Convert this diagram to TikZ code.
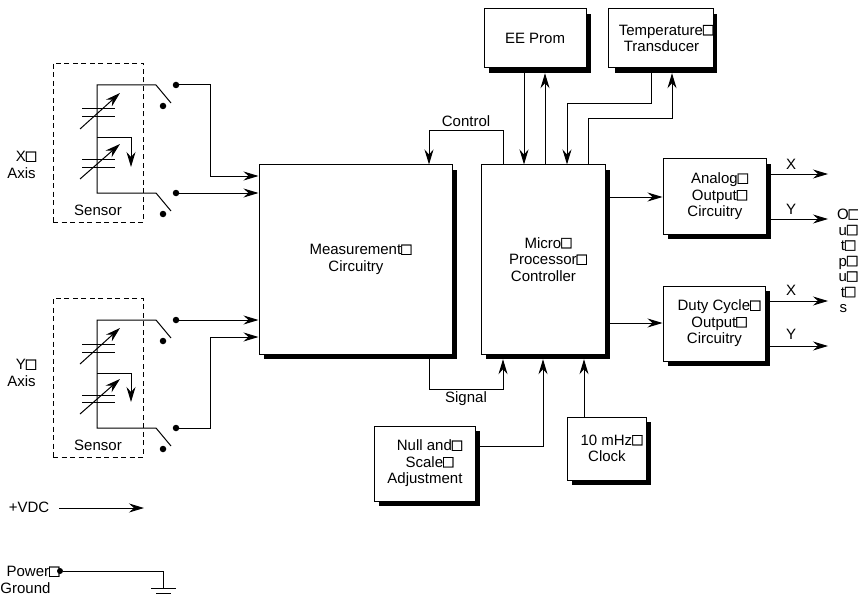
\documentclass[tikz,border=0pt]{standalone}
\usepackage{fontspec}
\setmainfont{Liberation Sans}
\newfontfamily\tffont[FakeBold=1.5]{Liberation Sans}
\usetikzlibrary{arrows.meta}
\newcommand{\tf}{{\fontsize{17}{16}\tffont □}}
\newcommand{\nt}{\phantom{□}}
\newcommand{\sh}{\hspace*{10pt}}
\tikzset{
  conn/.style={line width=1pt},
  arr/.style={conn,-{Stealth[length=15pt,width=9pt,inset=5pt]}},
  cbox/.style={draw=black,line width=1pt,fill=white,inner sep=0pt,align=center,font=\fontsize{15}{16.6}\selectfont},
  sbox/.style={fill=black,inner sep=0pt},
  txt/.style={inner sep=0pt,align=center,font=\fontsize{15}{16.6}\selectfont},
  sens/.style={draw=black,line width=0.9pt,dashed,dash pattern=on 5pt off 3.5pt,inner sep=0pt},
  dot/.style={circle,fill=black,inner sep=0pt,minimum size=6.5pt},
}
% name, x1, y1, x2, y2, text
\newcommand{\mybox}[6]{%
  \node[sbox,minimum width=#4pt-#2pt,minimum height=#5pt-#3pt] (#1-s) at ({(#2+#4)/2+5},{(#3+#5)/2+5}) {};
  \node[cbox,minimum width=#4pt-#2pt,minimum height=#5pt-#3pt] (#1) at ({(#2+#4)/2},{(#3+#5)/2}) {#6};
}
% sensor drawing, y offset, suffix
\newcommand{\sensor}[2]{%
  \node[sens,minimum width=90pt,minimum height=159pt] (sb#2) at (98,{142.5+#1}) {};
  \node[txt] (st#2) at (98,{210+#1}) {Sensor};
  \coordinate (ta#2) at (97,{85+#1});
  \coordinate (tb#2) at (97,{193+#1});
  \coordinate (tk#2) at (156,{85+#1});
  \coordinate (bk#2) at (156,{193+#1});
  \coordinate (te#2) at (171,{103+#1});
  \coordinate (be#2) at (171,{211+#1});
  \node[dot] (du#2) at (176,{85+#1}) {};
  \node[dot] (dl#2) at (163,{106+#1}) {};
  \node[dot] (eu#2) at (176,{193+#1}) {};
  \node[dot] (el#2) at (163,{214+#1}) {};
  \draw[conn] (te#2) -- (tk#2) -- (ta#2) -- (tb#2) -- (bk#2) -- (be#2);
  \coordinate (p1l#2) at (82,{109+#1}); \coordinate (p1r#2) at (115,{109+#1});
  \coordinate (p2l#2) at (82,{117+#1}); \coordinate (p2r#2) at (115,{117+#1});
  \coordinate (p3l#2) at (82,{160+#1}); \coordinate (p3r#2) at (115,{160+#1});
  \coordinate (p4l#2) at (82,{167+#1}); \coordinate (p4r#2) at (115,{167+#1});
  \draw[conn] (p1l#2) -- (p1r#2); \draw[conn] (p2l#2) -- (p2r#2);
  \draw[conn] (p3l#2) -- (p3r#2); \draw[conn] (p4l#2) -- (p4r#2);
  \coordinate (a1s#2) at (80,{129+#1}); \coordinate (a1e#2) at (120,{93+#1});
  \coordinate (a2s#2) at (80,{179+#1}); \coordinate (a2e#2) at (120,{144+#1});
  \draw[arr] (a1s#2) -- (a1e#2);
  \draw[arr] (a2s#2) -- (a2e#2);
  \coordinate (m1#2) at (97,{138+#1}); \coordinate (m2#2) at (131,{138+#1}); \coordinate (m3#2) at (131,{167+#1});
  \draw[arr] (m1#2) -- (m2#2) -- (m3#2);
}
\begin{document}
\begin{tikzpicture}[x=1pt,y=-1pt]
\useasboundingbox (0,0) rectangle (858,596);
\clip (0,0) rectangle (858,596);
\mybox{meas}{259}{165}{452}{354}{\sh Measurement\tf\\\sh Circuitry\nt}
\mybox{micro}{481}{165}{605}{354}{\sh Micro\tf\\\sh Processor\tf\\\sh Controller\nt}
\mybox{ee}{484}{9}{586}{68}{EE Prom}
\mybox{temp}{610}{9}{712}{68}{\sh Temperature\tf\\\sh Transducer\nt}
\mybox{ana}{663}{159}{766}{234}{\sh Analog\tf\\\sh Output\tf\\\sh Circuitry\nt}
\mybox{duty}{663}{286}{765}{361}{\sh Duty Cycle\tf\\\sh Output\tf\\\sh Circuitry\nt}
\mybox{null}{374}{426}{475}{501}{\sh Null and\tf\\\sh Scale\tf\\\sh Adjustment\nt}
\mybox{clk}{567}{417}{646}{480}{\sh 10 mHz\tf\\\sh Clock\nt}
\sensor{0}{x}
\sensor{235}{y}
\node[txt] (xl) at (26,165) {X\tf\\Axis\nt};
\node[txt] (yl) at (26,373) {Y\tf\\Axis\nt};
% sensor outputs
\coordinate (j1) at (210,176);
\draw[arr] (dux) -| (j1) -- (j1 -| meas.west);
\draw[arr] (eux) -- (eux -| meas.west);
\coordinate (j2) at (210,337);
\draw[arr] (duy) -- (duy -| meas.west);
\draw[arr] (euy) -| (j2) -- (j2 -| meas.west);
% control, signal
\coordinate (c1) at (503,131); \coordinate (c2) at (429,131);
\draw[arr] (micro.north -| c1) -- (c1) -- (c2) -- (c2 |- meas.north);
\node[txt] (ctl) at (466,121) {Control};
\coordinate (s1) at (429,389); \coordinate (s2) at (503,389);
\draw[arr] (meas-s.south -| s1) -- (s1) -- (s2) -- (s2 |- micro-s.south);
\node[txt] (sig) at (466,399) {Signal};
% eeprom
\coordinate (e1) at (524,100); \coordinate (e2) at (545,100);
\draw[arr] (ee-s.south -| e1) -- (micro.north -| e1);
\draw[arr] (micro.north -| e2) -- (ee-s.south -| e2);
% temp
\coordinate (t1) at (651,104); \coordinate (t2) at (567,104);
\draw[arr] (temp-s.south -| t1) -- (t1) -- (t2) -- (t2 |- micro.north);
\coordinate (t3) at (588,119); \coordinate (t4) at (672,119);
\draw[arr] (micro.north -| t3) -- (t3) -- (t4) -- (t4 |- temp-s.south);
% null, clock
\coordinate (n1) at (543,446);
\draw[arr] (null-s.east |- n1) -- (n1) -- (n1 |- micro-s.south);
\coordinate (k1) at (584,400);
\draw[arr] (clk.north -| k1) -- (k1 |- micro-s.south);
% to outputs
\coordinate (o1) at (640,197); \coordinate (o2) at (640,323);
\draw[arr] (micro-s.east |- o1) -- (o1 -| ana.west);
\draw[arr] (micro-s.east |- o2) -- (o2 -| duty.west);
\coordinate (x1) at (828,174); \coordinate (y1) at (828,219);
\coordinate (x2) at (828,301); \coordinate (y2) at (828,346);
\draw[arr] (ana-s.east |- x1) -- (x1);
\draw[arr] (ana-s.east |- y1) -- (y1);
\draw[arr] (duty-s.east |- x2) -- (x2);
\draw[arr] (duty-s.east |- y2) -- (y2);
\node[txt] (lx1) at (791,164) {X};
\node[txt] (ly1) at (791,209) {Y};
\node[txt] (lx2) at (791,290) {X};
\node[txt] (ly2) at (791,334) {Y};
\node[txt,font=\fontsize{15}{15.5}\selectfont] (outs) at (848,261) {O\tf\\u\tf\\t\tf\\p\tf\\u\tf\\t\tf\\s\nt};
% power
\node[txt] (vdc) at (29,507) {+VDC};
\coordinate (v1) at (144,508);
\draw[arr] (vdc.east |- v1) ++(10,0) -- (v1);
\node[txt] (pg) at (33,580) {Power\tf\\Ground\hspace*{6pt}\nt};
\node[dot,minimum size=6pt] (pd) at (60,571) {};
\coordinate (g0) at (163,571); \coordinate (g1) at (163,588);
\draw[conn] (pd) -- (g0) -- (g1);
\coordinate (g1l) at (151,588); \coordinate (g1r) at (176,588);
\coordinate (g2l) at (156,593); \coordinate (g2r) at (171,593);
\draw[conn] (g1l) -- (g1r);
\draw[conn] (g2l) -- (g2r);
\end{tikzpicture}
\end{document}
